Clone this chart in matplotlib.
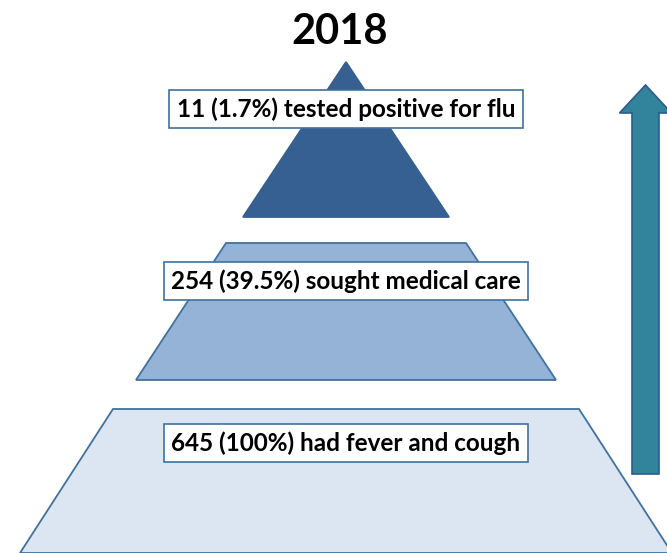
import matplotlib.pyplot as plt
from matplotlib.patches import Polygon, FancyArrow

# Data
counts = [645, 254, 11]
percents = ["100%", "39.5%", "1.7%"]
descriptions = ["had fever and cough", "sought medical care", "tested positive for flu"]
title = "2018"

# tiers bottom -> top: (top half width, bottom half width, top y, bottom y) in pixels
center_x = 346
tiers = [
    (233, 326, 409, 553),
    (120, 210, 243, 380),
    (0, 103, 62, 217),
]
tier_fill = ["#dce6f2", "#95b3d7", "#376092"]
tier_edge = ["#41719c", "#41719c", "#376092"]
label_y = [443, 281, 109]

plt.rcParams['font.family'] = ['Lato', 'DejaVu Sans']

fig = plt.figure(figsize=(6.67, 5.53), dpi=100)
ax = fig.add_axes([0, 0, 1, 1])
ax.set_xlim(0, 667)
ax.set_ylim(553, 0)
ax.axis('off')

for (tw, bw, ty, by), fc, ec in zip(tiers, tier_fill, tier_edge):
    pts = [(center_x - tw, ty), (center_x + tw, ty), (center_x + bw, by), (center_x - bw, by)]
    ax.add_patch(Polygon(pts, closed=True, facecolor=fc, edgecolor=ec, linewidth=1.3))

for n, p, d, y in zip(counts, percents, descriptions, label_y):
    ax.text(center_x, y, f"{n} ({p}) {d}", ha='center', va='center',
            fontsize=17.5, fontweight='bold', color='black',
            bbox=dict(boxstyle='square,pad=0.3', facecolor='white',
                      edgecolor='#41719c', linewidth=1.2))

# upward arrow on the right
ax.add_patch(FancyArrow(645.5, 474, 0, -389, width=27, head_width=52, head_length=28,
                        length_includes_head=True, facecolor='#31849b',
                        edgecolor='#2e5c8a', linewidth=1.2))

ax.text(340, 32, title, ha='center', va='center', fontsize=30, fontweight='bold')

fig.savefig("out.png", dpi=100)
